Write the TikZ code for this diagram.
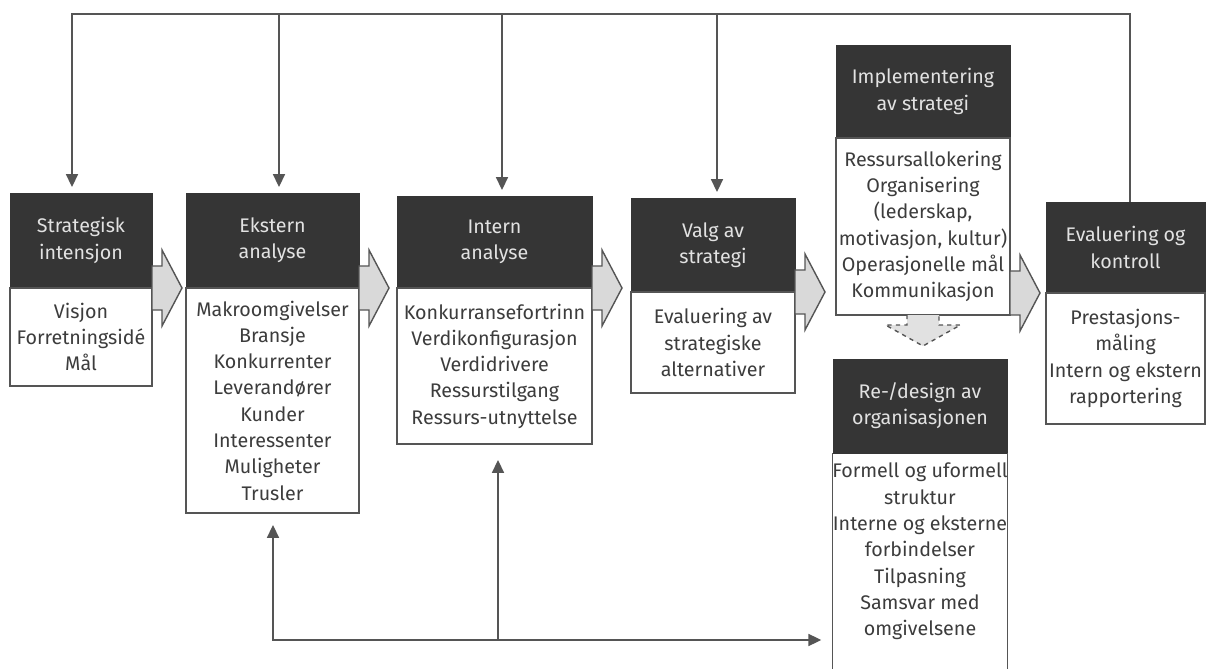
\documentclass[tikz,border=0pt]{standalone}
\usepackage{fontspec}
\setmainfont{Fira Sans}
\usetikzlibrary{arrows.meta}

\definecolor{hdark}{HTML}{353535}
\definecolor{htext}{HTML}{E2E2E2}
\definecolor{btext}{HTML}{3C3C3C}
\definecolor{lgray}{HTML}{D9D9D9}
\definecolor{lline}{HTML}{555555}

% block arrow starting at a box edge
\newcommand{\blkarrow}[1]{\draw [blk] (#1) ++(0,0.55) -- ++(0.25,0) -- ++(0,0.4) -- ++(0.5,-0.95) -- ++(-0.5,-0.95) -- ++(0,0.4) -- ++(-0.25,0) -- cycle;}

\begin{document}
\begin{tikzpicture}[
    head/.style={fill=hdark, draw=hdark, text=htext, align=center, inner sep=0pt, outer sep=0pt, anchor=north west},
    body/.style={fill=white, draw=lline, line width=0.035cm, text=btext, align=center, inner sep=0pt, outer sep=0pt, anchor=north},
    conn/.style={draw=lline, line width=0.035cm},
    tip/.style={-{Triangle[length=0.32cm,width=0.3cm]}},
    blk/.style={fill=lgray, draw=lline, line width=0.035cm, line join=miter}]
                        \useasboundingbox (0,0) rectangle (30.150000,16.700000);
                        \clip (0,0) rectangle (30.150000,16.700000);
                        {\fontsize{14}{18.7}\selectfont

                        % Drawing box Strategisk intensjon
                        \draw (0.250000,11.875000) node [head, minimum width=3.55cm, minimum height=2.375cm] (hS) {Strategisk\\intensjon};%
                        \draw (hS.south) node [body, minimum width=3.55cm, minimum height=2.45cm] (bS) {Visjon\\Forretningsidé\\Mål};%

                        % Drawing box Ekstern analyse
                        \draw (4.650000,11.875000) node [head, minimum width=4.325cm, minimum height=2.375cm] (hK) {Ekstern\\analyse};%
                        \draw (hK.south) node [body, minimum width=4.325cm, minimum height=5.625cm] (bK) {Makroomgivelser\\Bransje\\Konkurrenter\\Leverandører\\Kunder\\Interessenter\\Muligheter\\Trusler};%

                        % Drawing box Intern analyse
                        \draw (9.925000,11.800000) node [head, minimum width=4.875cm, minimum height=2.3cm] (hN) {Intern\\analyse};%
                        \draw (hN.south) node [body, minimum width=4.875cm, minimum height=3.9cm] (bN) {Konkurransefortrinn\\Verdikonfigurasjon\\Verdidrivere\\Ressurstilgang\\Ressurs-utnyttelse};%

                        % Drawing box Valg av strategi
                        \draw (15.775000,11.750000) node [head, minimum width=4.1cm, minimum height=2.35cm] (hV) {Valg av\\strategi};%
                        \draw (hV.south) node [body, minimum width=4.1cm, minimum height=2.525cm] (bV) {Evaluering av\\strategiske\\alternativer};%

                        % Drawing box Implementering av strategi
                        \draw (20.900000,15.575000) node [head, minimum width=4.35cm, minimum height=2.325cm] (hI) {Implementering\\av strategi};%
                        \draw (hI.south) node [body, minimum width=4.35cm, minimum height=4.425cm] (bI) {Ressursallokering\\Organisering\\(lederskap,\\motivasjon, kultur)\\Operasjonelle mål\\Kommunikasjon};%

                        % Drawing box Evaluering og kontroll
                        \draw (26.150000,11.650000) node [head, minimum width=3.975cm, minimum height=2.275cm] (hE) {Evaluering og\\kontroll};%
                        \draw (hE.south) node [body, minimum width=3.975cm, minimum height=3.275cm] (bE) {Prestasjons-\\måling\\Intern og ekstern\\rapportering};%

                        % Drawing box Re-/design (open at the bottom)
                        \draw (20.825000,7.725000) node [head, minimum width=4.35cm, minimum height=2.35cm] (hR) {Re-/design av\\organisasjonen};%
                        \draw (hR.south) node [body, draw=none, fill=none, minimum width=4.35cm, minimum height=4.925cm] (bR) {Formell og uformell\\struktur\\Interne og eksterne\\forbindelser\\Tilpasning\\Samsvar med\\omgivelsene};%
                        \draw [conn] (bR.north west) -- ++(0,-6.000000);%
                        \draw [conn] (bR.north east) -- ++(0,-6.000000);%
                        }

                        % Drawing block arrows between boxes
                        \blkarrow{hS.south east}
                        \blkarrow{hK.south east}
                        \blkarrow{hN.south east}
                        \blkarrow{hV.south east}
                        \blkarrow{bI.east |- hE.south}
                        \draw [blk, fill=lgray!80, dashed] ([xshift=-0.4cm]bI.south) -- ++(0,-0.25) -- ++(-0.5375,0) -- ++(0.9375,-0.525) -- ++(0.9375,0.525) -- ++(-0.5375,0) -- ++(0,0.25);%

                        % Drawing feedback line at the top
                        \coordinate (tR) at (28.250000,16.350000);
                        \coordinate (tL) at (1.800000,16.350000);
                        \coordinate (tK) at (6.975000,16.350000);
                        \coordinate (tN) at (12.550000,16.350000);
                        \coordinate (tV) at (17.925000,16.350000);
                        \draw [conn, tip, shorten >=0.15cm] (tR |- hE.north) -- (tR) -- (tL) -- (tL |- hS.north);%
                        \draw [conn, tip, shorten >=0.15cm] (tK) -- (tK |- hK.north);%
                        \draw [conn, tip, shorten >=0.15cm] (tN) -- (tN |- hN.north);%
                        \draw [conn, tip, shorten >=0.15cm] (tV) -- (tV |- hV.north);%

                        % Drawing line at the bottom
                        \coordinate (bL) at (6.825000,0.700000);
                        \coordinate (bM) at (12.450000,0.700000);
                        \draw [conn, {Triangle[length=0.32cm,width=0.3cm]}-{Triangle[length=0.32cm,width=0.3cm]}, shorten <=0.3cm, shorten >=0.275cm] (bL |- bK.south) -- (bL) -- (bL -| bR.west);%
                        \draw [conn, tip, shorten >=0.4cm] (bM) -- (bM |- bN.south);%
                    \end{tikzpicture}
\end{document}
